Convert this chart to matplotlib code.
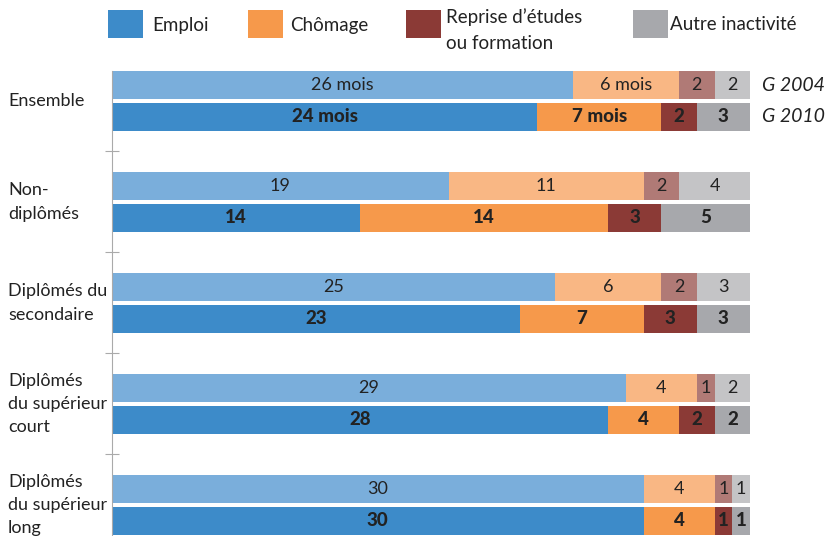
import matplotlib.pyplot as plt
import matplotlib.transforms as mtransforms
from matplotlib.patches import Rectangle
import numpy as np

plt.rcParams['font.family'] = ['Lato', 'DejaVu Sans']

# Data: months spent in each situation during the first 3 years (36 months)
groups = ["Ensemble", "Non-\ndiplômés", "Diplômés du\nsecondaire",
          "Diplômés\ndu supérieur\ncourt", "Diplômés\ndu supérieur\nlong"]
series = ["Emploi", "Chômage", "Reprise d\u2019études\nou formation", "Autre inactivité"]

g2004_emploi = [26, 19, 25, 29, 30]
g2004_chomage = [6, 11, 6, 4, 4]
g2004_reprise = [2, 2, 2, 1, 1]
g2004_autre = [2, 4, 3, 2, 1]

g2010_emploi = [24, 14, 23, 28, 30]
g2010_chomage = [7, 14, 7, 4, 4]
g2010_reprise = [2, 3, 3, 2, 1]
g2010_autre = [3, 5, 3, 2, 1]

cohorts = ["G 2004", "G 2010"]

colors_2010 = ["#3d8bc9", "#f6994b", "#8b3a36", "#a7a8ac"]
colors_2004 = ["#7aaedb", "#f9b784", "#b07a76", "#c4c4c6"]
text_color = "#222222"

fig = plt.figure(figsize=(8.37, 5.36), dpi=100)
ax = fig.add_axes([112 / 837, 0, 638 / 837, 465 / 536])

y = np.arange(len(groups))
off = 0.158
h = 0.277

data_2004 = [g2004_emploi, g2004_chomage, g2004_reprise, g2004_autre]
data_2010 = [g2010_emploi, g2010_chomage, g2010_reprise, g2010_autre]

for data, colors, dy, bold in [(data_2004, colors_2004, -off, False),
                               (data_2010, colors_2010, off, True)]:
    left = np.zeros(len(groups))
    for k, vals in enumerate(data):
        vals = np.array(vals, dtype=float)
        ax.barh(y + dy, vals, left=left, height=h, color=colors[k], linewidth=0)
        for i, v in enumerate(vals):
            label = str(int(v))
            if i == 0 and k < 2:
                label += " mois"
            ax.text(left[i] + v / 2, y[i] + dy, label, ha="center", va="center",
                    fontsize=13.5 if bold else 13, color=text_color,
                    fontweight="black" if bold else "normal")
        left += vals

# cohort labels on the right of the first group
ax.text(36.7, y[0] - off, cohorts[0], ha="left", va="center", fontsize=14,
        style="italic", color=text_color, clip_on=False)
ax.text(36.7, y[0] + off, cohorts[1], ha="left", va="center", fontsize=14,
        style="italic", color=text_color, clip_on=False)

# category labels at the far left
trans = mtransforms.blended_transform_factory(fig.transFigure, ax.transData)
for i, g in enumerate(groups):
    ax.text(8 / 837, y[i], g, transform=trans, ha="left", va="center",
            fontsize=13, linespacing=1.55, color=text_color, clip_on=False)

ax.set_xlim(0, 36)
ax.set_ylim(4.307, -0.297)
ax.set_yticks([0.5, 1.5, 2.5, 3.5])
ax.set_yticklabels([])
ax.tick_params(axis="y", direction="inout", length=10, color="#aaaaaa")
ax.set_xticks([])
for s in ["top", "right", "bottom"]:
    ax.spines[s].set_visible(False)
ax.spines["left"].set_color("#aaaaaa")

# legend drawn at the top of the figure
leg_x = [108, 248, 406, 633]
text_x = [152, 290, 446, 670]
for k, name in enumerate(series):
    fig.add_artist(Rectangle((leg_x[k] / 837, 1 - 38 / 536), 35 / 837, 28 / 536,
                             transform=fig.transFigure, color=colors_2010[k], lw=0))
    ty = 30 if "\n" in name else 25
    fig.text(text_x[k] / 837, 1 - ty / 536, name, ha="left", va="center",
             fontsize=13.5, linespacing=1.6, color=text_color)

fig.savefig("out.png", dpi=100)
